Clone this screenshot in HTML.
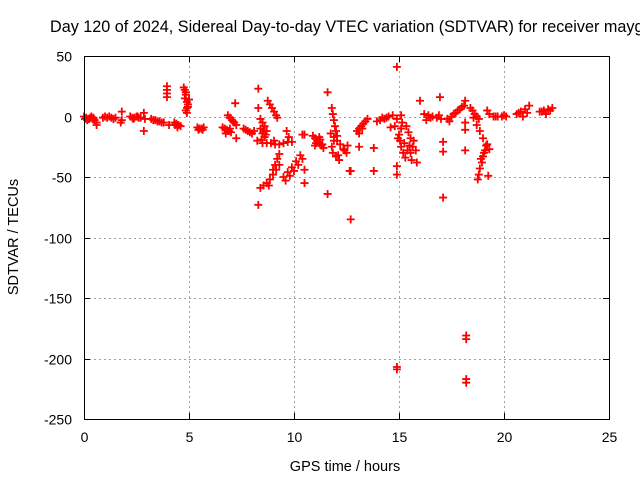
<!DOCTYPE html>
<html><head><meta charset="utf-8"><style>
body{margin:0;background:#fff}
svg{display:block;font-family:"Liberation Sans",sans-serif}
</style></head><body>
<svg id="chart" width="640" height="480" viewBox="0 0 640 480"></svg>
<script>
const xTicks=[0,5,10,15,20,25];
const yTicks=[50,0,-50,-100,-150,-200,-250];
const hours=[0,0.1,0.2,0.3,0.4,0.5,0.15,0.35,0.6,0.6,0.9,1.0,1.1,1.2,1.3,1.4,1.5,1.8,1.8,1.75,2.2,2.3,2.4,2.5,2.6,2.7,2.85,2.85,2.9,3.2,3.3,3.4,3.5,3.6,3.7,3.8,3.95,3.95,3.95,3.95,4.3,4.4,4.5,4.6,4.45,4.35,4.75,4.8,4.85,4.8,4.9,4.95,4.85,4.9,4.95,5.0,5.4,5.5,5.6,5.7,6.6,6.7,6.8,6.9,7.0,6.75,6.95,6.85,6.95,7.05,7.15,7.25,7.2,7.25,7.6,7.7,7.8,7.9,8.0,8.1,8.3,8.3,8.25,8.4,8.5,8.6,8.4,8.5,8.6,8.7,8.45,8.75,8.85,8.95,9.05,9.15,9.2,8.7,8.9,9.1,9.3,9.5,9.7,9.9,9.65,9.75,8.4,8.55,8.7,8.85,9.0,9.15,9.3,8.3,9.0,9.1,9.2,9.3,9.5,9.7,9.9,10.1,10.3,9.6,9.8,10.0,10.2,10.4,10.4,10.5,10.5,11.6,10.5,11.6,12.7,12.7,10.9,11.0,11.1,11.2,11.3,11.4,11.0,11.2,11.8,11.85,11.9,11.95,12.0,12.05,11.9,11.8,11.85,12.0,12.15,11.75,11.9,12.05,12.2,12.35,12.5,12.55,13.1,13.8,13.8,12.65,13.0,13.1,13.2,13.3,13.4,13.5,13.1,13.95,14.1,14.3,14.5,14.7,14.9,14.8,14.6,14.95,14.9,14.9,14.9,14.9,14.9,15.1,15.15,15.1,15.0,15.05,15.1,15.2,15.3,15.5,15.55,15.6,15.35,15.45,15.55,15.7,15.8,15.85,16.0,16.95,17.1,17.1,17.1,16.2,16.4,16.6,16.8,17.0,16.3,17.3,17.5,17.7,17.9,18.1,18.15,17.4,17.6,18.15,18.15,18.15,18.2,18.2,18.2,18.2,18.4,18.5,18.6,18.7,18.8,18.7,18.85,19.0,19.15,19.3,19.2,19.1,19.0,18.95,18.85,18.8,18.75,19.25,19.3,19.5,19.7,19.9,20.1,19.2,20.6,20.8,21.0,21.2,20.9,21.7,21.9,22.1,22.3,22.0,
 0.05,0.25,0.45,2.35,2.55,4.05,4.85,4.9,5.45,5.65,6.85,7.1,8.5,8.55,8.65,8.8,9.05,11.05,11.25,11.35,12.1,12.4,13.25,14.2,14.4,15.25,15.4,15.65,16.5,16.9,17.8,18.0,18.55,18.9,19.05,19.6,20.0,20.7,21.1,21.8,22.2];
const sdtvar=[0,-1,-2,-1,-2,-3,-3,0,-7,-5,-1,0,-1,0,-1,-2,-1,4,-3,-5,0,-1,-1,0,-1,-1,3,-12,-2,-2,-3,-3,-4,-4,-5,-5,25,22,19,16,-5,-6,-7,-8,-9,-7,24,22,18,15,12,8,5,3,10,14,-9,-10,-10,-9,-9,-10,-11,-12,-13,-14,-10,1,-1,-3,-5,-7,11,-18,-10,-11,-12,-13,-14,-12,23,7,-20,-2,-5,-8,-10,-14,-17,-12,-19,13,10,7,4,1,-1,-22,-22,-23,-23,-22,-21,-21,-12,-17,-59,-57,-55,-52,-48,-44,-40,-73,-44,-40,-35,-31,-50,-46,-42,-37,-32,-53,-49,-45,-40,-35,-15,-55,-44,20,-15,-64,-85,-45,-16,-18,-20,-22,-24,-26,-24,-17,7,2,-3,-8,-12,-16,-20,-25,-30,-33,-36,-14,-17,-20,-23,-27,-30,-24,-25,-26,-45,-45,-12,-10,-8,-6,-4,-2,-14,-4,-3,-2,0,1,-2,-8,-9,-18,41,-41,-48,-207,-209,1,-5,-10,-15,-20,-25,-30,-34,-24,-30,-36,-8,-13,-18,-20,-28,-38,13,16,-21,-29,-67,2,1,0,-1,-2,-3,-2,0,3,6,9,13,-4,2,-5,-11,-28,-184,-181,-217,-220,7,5,2,0,-2,-7,-12,-18,-24,-27,-23,-28,-33,-38,-43,-48,-52,-49,2,0,0,0,0,5,2,4,6,9,0,4,5,6,7,2,
 -2,-2,-1,-2,0,-7,20,7,-11,-11,-12,-4,-22,-12,-15,-57,-20,-22,-19,-23,-32,-28,-10,-1,-1,-22,-28,-25,-1,1,5,8,-1,-35,-30,0,1,3,3,4,5];
const NS="http://www.w3.org/2000/svg";
const svg=document.getElementById('chart');
const L=84,R=609,T=56,B=419;
function xs(h){return L+(h-0)/(25-0)*(R-L);}
function ys(v){return T+(50-v)/(300)*(B-T);}
function mk(tag,attrs,parent){const e=document.createElementNS(NS,tag);for(const k in attrs)e.setAttribute(k,attrs[k]);(parent||svg).appendChild(e);return e;}
const title=mk('text',{x:50,y:32,'font-size':16.2,fill:'#000'});


title.textContent='Day 120 of 2024, Sidereal Day-to-day VTEC variation (SDTVAR) for receiver maygo';
const grid=mk('g',{stroke:'#a0a0a0','stroke-width':1,'stroke-dasharray':'2,3'});


xTicks.forEach(t=>{const x=Math.round(xs(t))+0.5;if(t>0&&t<25){const g=mk('line',{x1:x,x2:x,y1:T,y2:B},grid);}
 const tk=mk('line',{x1:x,x2:x,y1:B,y2:B-6,stroke:'#000'});
 const tk2=mk('line',{x1:x,x2:x,y1:T,y2:T+6,stroke:'#000'});
 const lb=mk('text',{x:x,y:B+23,'font-size':14,'text-anchor':'middle'});lb.textContent=t;});
yTicks.forEach(t=>{const y=Math.round(ys(t))+0.5;if(t<50&&t>-250){const g=mk('line',{x1:L,x2:R,y1:y,y2:y},grid);}
 const tk=mk('line',{x1:L,x2:L+6,y1:y,y2:y,stroke:'#000'});
 const tk2=mk('line',{x1:R,x2:R-6,y1:y,y2:y,stroke:'#000'});
 const lb=mk('text',{x:72,y:y+5,'font-size':14,'text-anchor':'end'});lb.textContent=t;});
const pts=mk('g',{stroke:'#ff0000','stroke-width':1.8,fill:'none'});


hours.forEach((h,i)=>{const x=xs(h),y=ys(sdtvar[i]);
 const p=mk('path',{d:`M${x-4},${y}H${x+4}M${x},${y-4}V${y+4}`},pts);
 
 });
const frame=mk('rect',{x:L+0.5,y:T+0.5,width:R-L,height:B-T,fill:'none',stroke:'#000','stroke-width':1});


const xl=mk('text',{x:345,y:471,'font-size':14.5,'text-anchor':'middle'});


xl.textContent='GPS time / hours';
const yl=mk('text',{x:0,y:0,'font-size':14.5,'text-anchor':'middle',transform:'translate(18,237) rotate(-90)'});


yl.textContent='SDTVAR / TECUs';
</script>
</body></html>
